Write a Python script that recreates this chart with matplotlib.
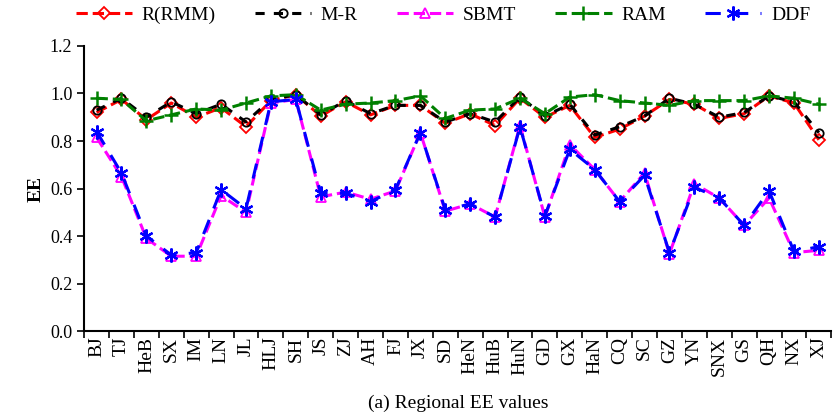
import matplotlib.pyplot as plt
import numpy as np

plt.rcParams['font.family'] = ['Liberation Serif', 'DejaVu Serif']

# Regions
regions = ['BJ', 'TJ', 'HeB', 'SX', 'IM', 'LN', 'JL', 'HLJ', 'SH', 'JS', 'ZJ', 'AH', 'FJ', 'JX', 'SD',
           'HeN', 'HuB', 'HuN', 'GD', 'GX', 'HaN', 'CQ', 'SC', 'GZ', 'YN', 'SNX', 'GS', 'QH', 'NX', 'XJ']

# EE values
rmm = [0.92, 0.975, 0.89, 0.96, 0.90, 0.94, 0.86, 0.97, 0.995, 0.905, 0.965, 0.91, 0.95, 0.95, 0.875,
       0.915, 0.865, 0.98, 0.90, 0.95, 0.815, 0.85, 0.905, 0.975, 0.955, 0.895, 0.915, 0.99, 0.96, 0.805]
mr = [0.93, 0.98, 0.90, 0.965, 0.915, 0.955, 0.88, 0.975, 0.995, 0.91, 0.97, 0.915, 0.95, 0.95, 0.88,
      0.915, 0.88, 0.985, 0.905, 0.955, 0.825, 0.86, 0.905, 0.98, 0.955, 0.90, 0.92, 0.99, 0.965, 0.835]
sbmt = [0.815, 0.65, 0.39, 0.315, 0.315, 0.57, 0.50, 0.96, 0.975, 0.565, 0.585, 0.555, 0.59, 0.835, 0.505,
        0.535, 0.48, 0.865, 0.48, 0.785, 0.68, 0.545, 0.665, 0.325, 0.62, 0.56, 0.445, 0.56, 0.33, 0.34]
ram = [0.98, 0.975, 0.885, 0.91, 0.935, 0.93, 0.96, 0.99, 0.995, 0.93, 0.955, 0.96, 0.97, 0.99, 0.895,
       0.93, 0.935, 0.98, 0.915, 0.985, 0.995, 0.97, 0.96, 0.95, 0.97, 0.97, 0.97, 0.99, 0.98, 0.955]
ddf = [0.84, 0.665, 0.40, 0.32, 0.33, 0.595, 0.515, 0.965, 0.975, 0.58, 0.58, 0.545, 0.595, 0.835, 0.51,
       0.535, 0.48, 0.86, 0.485, 0.765, 0.68, 0.545, 0.655, 0.33, 0.605, 0.56, 0.445, 0.59, 0.335, 0.355]

x = np.arange(len(regions))

fig = plt.figure(figsize=(8.33, 4.18), dpi=100)
ax = fig.add_axes([0.101, 0.208, 0.897, 0.682])

lw = 2.2
ax.plot(x, rmm, '--', color='red', marker='D', ms=6, mfc='none', mec='red', mew=1.3, lw=lw, label='R(RMM)')
ax.plot(x, mr, '--', color='black', marker='o', ms=6, mfc='none', mec='black', mew=1.3, lw=lw,
        dashes=(3, 3), label='M-R')
ax.plot(x, sbmt, '--', color='magenta', marker='^', ms=7, mfc='none', mec='magenta', mew=1.3, lw=lw, label='SBMT')
ax.plot(x, ram, '--', color='green', marker='+', ms=10, mew=1.8, lw=lw, label='RAM')
ax.plot(x, ddf, '--', color='blue', marker=(6, 2, 0), ms=10, mew=1.6, lw=lw, dashes=(5, 4), label='DDF')

ax.set_xlim(-0.5, len(regions) - 0.5)
ax.set_ylim(0, 1.2)
ax.set_yticks(np.arange(0, 1.21, 0.2))
ax.set_yticklabels([f'{v:.1f}' for v in np.arange(0, 1.21, 0.2)], fontsize=13)
ax.set_xticks(x)
ax.set_xticklabels(regions, rotation=90, fontsize=14)
ax.set_xticks(np.arange(-0.5, len(regions), 1), minor=True)
ax.tick_params(axis='x', which='major', length=0, pad=4)
ax.tick_params(axis='x', which='minor', length=5, width=1.2, direction='out')
ax.tick_params(axis='y', length=5, width=1.2, direction='out')

for s in ['top', 'right']:
    ax.spines[s].set_visible(False)
for s in ['left', 'bottom']:
    ax.spines[s].set_linewidth(1.5)

ax.set_ylabel('EE', fontsize=14, fontweight='bold')
fig.text(0.55, 0.025, '(a) Regional EE values', ha='center', fontsize=14)

ax.legend(loc='lower center', bbox_to_anchor=(0.48, 1.05), ncol=5, frameon=False, fontsize=14,
          handlelength=2.9, columnspacing=2.0, handletextpad=0.5, borderaxespad=0.0)

fig.savefig('out.png', dpi=100)
